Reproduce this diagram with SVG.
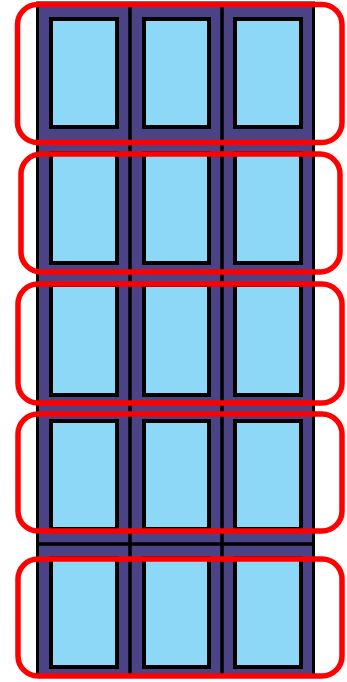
<svg xmlns="http://www.w3.org/2000/svg" width="347" height="682" viewBox="0 0 347 682">
<style>
.frame{fill:#4b4385;stroke:#000;stroke-width:3}
.div{stroke:#000;stroke-width:3.5}
.pane{fill:#8ed8f7;stroke:#000;stroke-width:4}
.sel{fill:none;stroke:#ff0000;stroke-width:5.5}
</style>
<rect width="347" height="682" fill="#fff"/>
<g id="frame">
<rect class="frame" x="37.5" y="3" width="276" height="673"/>
<line class="div" x1="130" y1="3" x2="130" y2="676"/>
<line class="div" x1="222" y1="3" x2="222" y2="676"/>
<line class="div" x1="37" y1="544" x2="314" y2="544"/>
</g>
<g id="row1">
<rect class="pane" x="51" y="19" width="66" height="108"/>
<rect class="pane" x="144" y="19" width="65" height="108"/>
<rect class="pane" x="235" y="19" width="66" height="108"/>
<rect class="sel" x="17.5" y="4.5" width="324.5" height="138" rx="20"/>
</g>
<g id="row2">
<rect class="pane" x="51" y="153" width="66" height="110"/>
<rect class="pane" x="144" y="153" width="65" height="110"/>
<rect class="pane" x="235" y="153" width="66" height="110"/>
<rect class="sel" x="21" y="154" width="319" height="118" rx="20"/>
</g>
<g id="row3">
<rect class="pane" x="51" y="285" width="66" height="110"/>
<rect class="pane" x="144" y="285" width="65" height="110"/>
<rect class="pane" x="235" y="285" width="66" height="110"/>
<rect class="sel" x="18" y="284" width="324" height="119" rx="20"/>
</g>
<g id="row4">
<rect class="pane" x="51" y="421" width="66" height="108"/>
<rect class="pane" x="144" y="421" width="65" height="108"/>
<rect class="pane" x="235" y="421" width="66" height="108"/>
<rect class="sel" x="18" y="414" width="324" height="117" rx="20"/>
</g>
<g id="row5">
<rect class="pane" x="51" y="558" width="66" height="109"/>
<rect class="pane" x="144" y="558" width="65" height="109"/>
<rect class="pane" x="235" y="558" width="66" height="109"/>
<rect class="sel" x="18" y="559" width="324" height="117" rx="20"/>
</g>
</svg>
